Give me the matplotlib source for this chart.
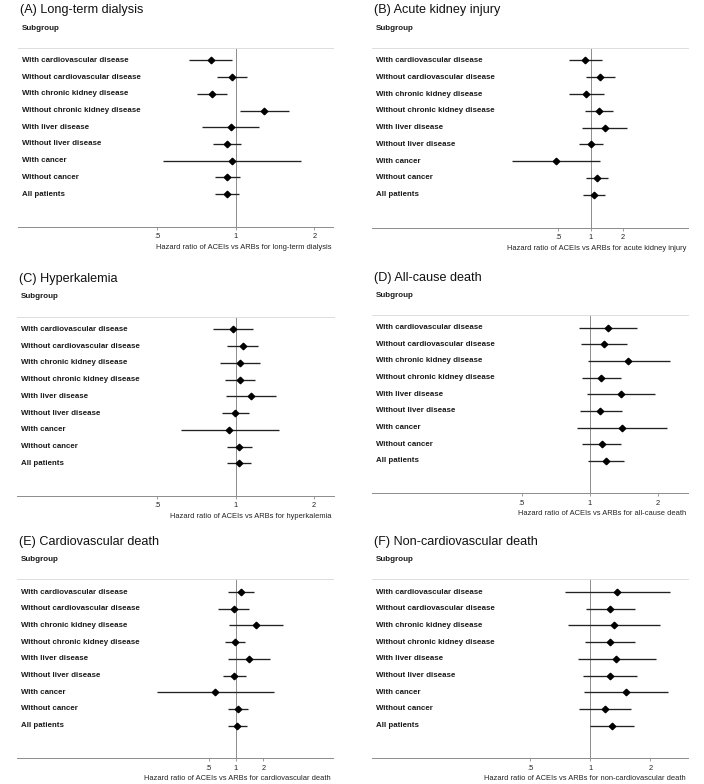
import numpy as np
import matplotlib
matplotlib.use("Agg")
import matplotlib.pyplot as plt
from matplotlib.ticker import FixedLocator, FixedFormatter, NullLocator

plt.rcParams['font.family'] = ['Liberation Sans', 'DejaVu Sans']

subgroups = ["With cardiovascular disease", "Without cardiovascular disease",
             "With chronic kidney disease", "Without chronic kidney disease",
             "With liver disease", "Without liver disease",
             "With cancer", "Without cancer", "All patients"]

titles = ["(A) Long-term dialysis", "(B) Acute kidney injury", "(C) Hyperkalemia",
          "(D) All-cause death", "(E) Cardiovascular death", "(F) Non-cardiovascular death"]
outcomes = ["long-term dialysis", "acute kidney injury", "hyperkalemia",
            "all-cause death", "cardiovascular death", "non-cardiovascular death"]

tick_vals = [0.5, 1, 2]
tick_labels = [".5", "1", "2"]

# hazard ratios and 95% CI
hr_a = [0.80, 0.965, 0.81, 1.28, 0.955, 0.92, 0.965, 0.925, 0.925]
lo_a = [0.66, 0.845, 0.71, 1.04, 0.74, 0.82, 0.525, 0.83, 0.83]
hi_a = [0.965, 1.105, 0.925, 1.595, 1.23, 1.045, 1.78, 1.035, 1.03]

hr_b = [0.886, 1.23, 0.911, 1.196, 1.35, 1.0, 0.476, 1.137, 1.074]
lo_b = [0.628, 0.911, 0.633, 0.892, 0.836, 0.773, 0.184, 0.911, 0.855]
hi_b = [1.266, 1.673, 1.321, 1.602, 2.18, 1.293, 1.23, 1.45, 1.35]

hr_c = [0.977, 1.064, 1.042, 1.039, 1.142, 0.994, 0.946, 1.033, 1.027]
lo_c = [0.821, 0.929, 0.871, 0.913, 0.918, 0.884, 0.615, 0.923, 0.923]
hi_c = [1.166, 1.215, 1.244, 1.19, 1.425, 1.128, 1.471, 1.156, 1.145]

hr_d = [1.197, 1.153, 1.471, 1.122, 1.366, 1.111, 1.384, 1.126, 1.181]
lo_d = [0.891, 0.916, 0.977, 0.919, 0.973, 0.903, 0.879, 0.925, 0.983]
hi_d = [1.618, 1.452, 2.248, 1.375, 1.943, 1.38, 2.195, 1.375, 1.418]

hr_e = [1.135, 0.943, 1.675, 0.975, 1.379, 0.959, 0.592, 1.061, 1.034]
lo_e = [0.809, 0.639, 0.845, 0.75, 0.809, 0.719, 0.135, 0.816, 0.809]
hi_e = [1.592, 1.391, 3.32, 1.256, 2.37, 1.278, 2.6, 1.367, 1.333]

hr_f = [1.361, 1.255, 1.32, 1.25, 1.35, 1.25, 1.51, 1.189, 1.279]
lo_f = [0.746, 0.951, 0.775, 0.937, 0.864, 0.922, 0.933, 0.881, 0.992]
hi_f = [2.5, 1.669, 2.228, 1.682, 2.127, 1.708, 2.443, 1.606, 1.65]

hrs = [hr_a, hr_b, hr_c, hr_d, hr_e, hr_f]
los = [lo_a, lo_b, lo_c, lo_d, lo_e, lo_f]
his = [hi_a, hi_b, hi_c, hi_d, hi_e, hi_f]

# x limits (each panel has its own scale, as in the original)
xlims = [(0.146, 2.355), (0.0092, 8.05), (0.144, 2.39),
         (0.109, 2.71), (0.0039, 11.7), (0.080, 3.09)]

W, H = 704, 784
fig = plt.figure(figsize=(W / 100, H / 100), dpi=100)

# panel boxes in pixels: left, top, right, bottom
boxes = [(18, 47.7, 333, 226.7), (372, 47.7, 688, 227.5),
         (17, 316.7, 334, 496), (372, 315, 688, 493.3),
         (17, 579.3, 333, 758.3), (372, 579.3, 688, 758.3)]


def fx(x):
    return x / W


def fy(y):
    return 1 - y / H


ypos = np.arange(len(subgroups), 0, -1)

for i in range(6):
    l, t, r, b = boxes[i]
    ax = fig.add_axes([fx(l), fy(b), fx(r) - fx(l), fy(t) - fy(b)])
    ax.set_xscale('log', base=2)
    ax.set_xlim(*xlims[i])
    ax.set_ylim(1 - 1.95, len(subgroups) + 0.76)

    ax.hlines(ypos, los[i], his[i], color='#222222', lw=0.95, zorder=2)
    ax.plot(hrs[i], ypos, 'D', color='black', markersize=3.3, zorder=3)
    ax.axvline(1, color='#8c8c8c', lw=0.7, zorder=1)

    for s in ['left', 'right']:
        ax.spines[s].set_visible(False)
    ax.spines['top'].set_color('#dddddd')
    ax.spines['top'].set_linewidth(0.7)
    ax.spines['bottom'].set_color('#8c8c8c')
    ax.spines['bottom'].set_linewidth(0.7)

    ax.yaxis.set_major_locator(NullLocator())
    ax.xaxis.set_major_locator(FixedLocator(tick_vals))
    ax.xaxis.set_major_formatter(FixedFormatter(tick_labels))
    ax.xaxis.set_minor_locator(NullLocator())
    ax.tick_params(axis='x', length=2, width=0.6, color='#8c8c8c',
                   labelsize=5.4, labelcolor='#222222', pad=2.5)

    # subgroup labels sit inside the axes, at the left
    label_x = 3.8 / (r - l)
    for y, name in zip(ypos, subgroups):
        ax.text(label_x, y, name, transform=ax.get_yaxis_transform(),
                fontsize=5.7, fontweight='bold', color='#1a1a1a',
                va='center', ha='left')

    fig.text(fx(l + 2), fy(t - 37.5), titles[i], fontsize=9.1,
             color='#111111', va='center', ha='left')
    fig.text(fx(l + 3.8), fy(t - 19.7), "Subgroup", fontsize=5.8,
             fontweight='bold', color='#1a1a1a', va='center', ha='left')
    fig.text(fx(r - 2), fy(b + 20.5),
             "Hazard ratio of ACEIs vs ARBs for " + outcomes[i],
             fontsize=5.4, color='#222222', va='center', ha='right')

fig.savefig("out.png", dpi=100)
